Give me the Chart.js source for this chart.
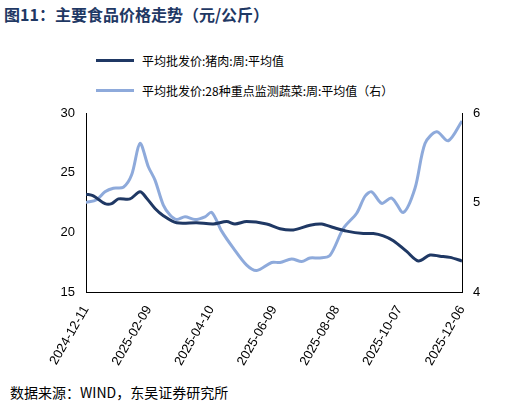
<!DOCTYPE html><html><head><meta charset="utf-8">
<script src="https://cdn.jsdelivr.net/npm/chart.js@4"></script>
<style>
body{margin:0;width:509px;height:413px;background:#fff;font-family:"Noto Sans CJK SC",sans-serif;position:relative;overflow:hidden}
#t{position:absolute;left:4px;top:2px;font-size:16px;font-weight:bold;color:#1f3864}
#s{position:absolute;left:10px;top:382px;font-size:14px;color:#000}
.lg{position:absolute;left:96px;font-size:12px;color:#000;display:flex;align-items:center}
.lg i{display:inline-block;width:38px;height:3px;margin-right:8px}
#c{position:absolute;left:0;top:40px}
</style></head><body>
<div id="t">图11：主要食品价格走势（元/公斤）</div>
<div class="lg" style="top:52px"><i style="background:#1f3864"></i>平均批发价:猪肉:周:平均值</div>
<div class="lg" style="top:82px"><i style="background:#8eaadb"></i>平均批发价:28种重点监测蔬菜:周:平均值（右）</div>
<canvas id="c" width="509" height="340"></canvas>
<div id="s">数据来源：WIND，东吴证券研究所</div>
<script>
const startDate='2024-12-11';
const porkZx=[18,40,75,95,115,150,180,200,225,250,290,350,400,440,465,500,560,600,640,690,725,760,800,850,880,910,940,980,1015,1050,1080,1110,1146];
const porkVal=[23.2,23.06,22.4,22.4,22.8,22.8,23.4,22.86,22.0,21.4,20.8,20.8,20.7,20.9,20.7,20.9,20.7,20.3,20.2,20.6,20.7,20.4,20.1,19.9,19.9,19.7,19.3,18.4,17.6,18.1,18.0,17.9,17.6];
const vegZx=[18,50,75,100,130,155,180,205,225,250,270,290,315,345,375,395,425,460,500,530,575,600,635,665,690,720,750,790,830,855,875,905,935,970,1005,1035,1070,1105,1146];
const vegVal=[5.0,5.03,5.12,5.16,5.17,5.31,5.66,5.40,5.25,4.97,4.86,4.81,4.84,4.81,4.84,4.89,4.68,4.49,4.30,4.24,4.33,4.33,4.37,4.34,4.38,4.38,4.41,4.71,4.88,5.07,5.12,4.99,5.05,4.89,5.16,5.66,5.79,5.69,5.91];
const toDay=z=>(z-18)/(1128/360);
const fmt=d=>{const t=new Date(Date.UTC(2024,11,11)+d*86400000);return t.toISOString().slice(0,10);};
const pork=porkZx.map((z,i)=>({x:toDay(z),y:porkVal[i]}));
const veg=vegZx.map((z,i)=>({x:toDay(z),y:vegVal[i]}));
const f={family:'"Liberation Sans",sans-serif',size:13};
new Chart(document.getElementById('c'),{type:'line',data:{datasets:[
{data:pork,borderColor:'#1f3864',borderWidth:3,pointRadius:0,tension:0.3,yAxisID:'y'},
{data:veg,borderColor:'#8eaadb',borderWidth:3,pointRadius:0,tension:0.3,yAxisID:'y1'}]},
options:{responsive:false,animation:false,layout:{padding:{top:73,left:0,right:0}},plugins:{legend:{display:false},tooltip:{enabled:false}},
scales:{x:{type:'linear',min:0,max:360,grid:{display:false,drawTicks:true},border:{color:'#000'},afterFit:s=>{s.height=88;},
ticks:{stepSize:60,callback:v=>fmt(v),minRotation:60,maxRotation:60,color:'#000',font:f}},
y:{position:'left',min:15,max:30,grid:{display:false},border:{color:'#000'},afterFit:s=>{s.width=86;},ticks:{stepSize:5,color:'#000',font:f}},
y1:{position:'right',min:4,max:6,grid:{display:false},border:{color:'#000'},afterFit:s=>{s.width=47;},ticks:{stepSize:1,color:'#000',font:f}}}}});
</script></body></html>
